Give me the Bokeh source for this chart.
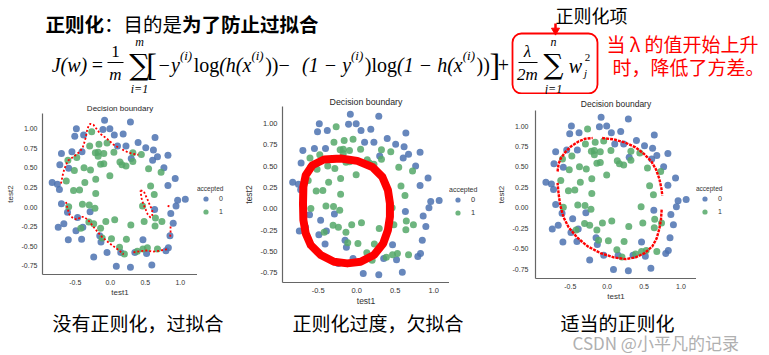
from bokeh.plotting import figure
from bokeh.layouts import column, row
from bokeh.models import Range1d, FixedTicker, NumeralTickFormatter, Legend, LegendItem, ColumnDataSource
from bokeh.core.properties import value
from bokeh.embed import file_html
from bokeh.resources import INLINE

# ---------------- data (microchip tests) ----------------
test1 = [0.051267, -0.092742, -0.21371, -0.375, -0.51325, -0.52477, -0.39804, -0.30588, 0.016705, 0.13191,
         0.38537, 0.52938, 0.63882, 0.73675, 0.54666, 0.322, 0.16647, -0.046659, -0.17339, -0.47869,
         -0.60541, -0.62846, -0.59389, -0.42108, -0.11578, 0.20104, 0.46601, 0.67339, -0.13882, -0.29435,
         -0.26555, -0.16187, -0.17339, -0.28283, -0.36348, -0.30012, -0.23675, -0.06394, 0.062788, 0.22984,
         0.2932, 0.48329, 0.64459, 0.46025, 0.6273, 0.57546, 0.72523, 0.22408, 0.44297, 0.322,
         0.13767, -0.0063364, -0.092742, -0.20795, -0.20795, -0.43836, -0.21947, -0.13882, 0.18376, 0.22408,
         0.29896, 0.50634, 0.61578, 0.60426, 0.76555, 0.92684, 0.82316, 0.96141, 0.93836, 0.86348,
         0.89804, 0.85196, 0.82892, 0.79435, 0.59274, 0.51786, 0.46601, 0.35081, 0.28744, 0.085829,
         0.14919, -0.13306, -0.40956, -0.39228, -0.74366, -0.69758, -0.75518, -0.69758, -0.4038, -0.38076,
         -0.50749, -0.54781, 0.10311, 0.057028, -0.10484, -0.081797, 0.28744, 0.39689, 0.63882, 0.82316,
         0.67339, 1.0709, -0.046659, -0.23675, -0.15035, -0.49021, -0.46717, -0.28859, -0.61118, -0.66302,
         -0.59965, -0.72638, -0.83007, -0.72062, -0.59389, -0.48445, -0.0063364, 0.63265]
test2 = [0.69956, 0.68494, 0.69225, 0.50219, 0.46564, 0.2098, 0.034357, -0.19225, -0.40424, -0.51389,
         -0.56506, -0.5212, -0.24342, -0.18494, 0.48757, 0.5826, 0.53874, 0.81652, 0.69956, 0.63377,
         0.59722, 0.33406, 0.005117, -0.27266, -0.39693, -0.60161, -0.53582, -0.53582, 0.54605, 0.77997,
         0.96272, 0.8019, 0.64839, 0.47295, 0.31213, 0.027047, -0.21418, -0.18494, -0.16301, -0.41155,
         -0.2288, -0.18494, -0.14108, 0.012427, 0.15863, 0.26827, 0.44371, 0.52412, 0.67032, 0.69225,
         0.57529, 0.39985, 0.55336, 0.35599, 0.17325, 0.21711, -0.016813, -0.27266, 0.93348, 0.77997,
         0.61915, 0.75804, 0.7288, 0.59722, 0.50219, 0.3633, 0.27558, 0.085526, 0.012427, -0.082602,
         -0.20687, -0.36769, -0.5212, -0.55775, -0.7405, -0.5943, -0.41886, -0.57968, -0.76974, -0.75512,
         -0.57968, -0.4481, -0.41155, -0.25804, -0.25804, 0.041667, 0.2902, 0.68494, 0.70687, 0.91886,
         0.90424, 0.70687, 0.77997, 0.91886, 0.99196, 1.1089, 1.087, 0.82383, 0.88962, 0.66301,
         0.64108, 0.10015, -0.57968, -0.63816, -0.36769, -0.3019, -0.13377, -0.060673, -0.067982, -0.21418,
         -0.41886, 0.22442, 0.31213, 0.53874, 0.49488, 0.99927, 0.99927, -0.030612]
accepted = [1] * 58 + [0] * 60

# decision boundary of plot 1 (no regularisation, traced)
b1_xs = [
    [-0.704, -0.694, -0.680, -0.661, -0.632, -0.599, -0.551, -0.489, -0.431, -0.392, -0.369, -0.349,
     -0.335, -0.312, -0.287, -0.24, -0.19, -0.144, -0.047, 0.048, 0.12],
    [0.17, 0.25, 0.32, 0.40],
    [-0.632, -0.613, -0.584, -0.527, -0.47, -0.421, -0.374, -0.326, -0.287, -0.24, -0.182, -0.119,
     -0.047, 0.024, 0.12, 0.19],
    [0.33, 0.38, 0.46, 0.53, 0.60, 0.66, 0.72, 0.80, 0.83],
    [0.86, 0.86, 0.855],
    [0.83, 0.835],
    [0.431, 0.479, 0.503, 0.536, 0.565, 0.599, 0.599, 0.575, 0.536, 0.503, 0.469, 0.445, 0.431],
]
b1_ys = [
    [0.30, 0.341, 0.405, 0.469, 0.541, 0.596, 0.626, 0.669, 0.711, 0.766, 0.829, 0.893,
     0.966, 1.033, 1.063, 1.05, 0.99, 0.936, 0.872, 0.796, 0.758],
    [0.735, 0.70, 0.68, 0.668],
    [0.065, -0.011, -0.096, -0.147, -0.16, -0.126, -0.126, -0.16, -0.198, -0.253, -0.317, -0.381,
     -0.436, -0.487, -0.55, -0.605],
    [-0.58, -0.57, -0.56, -0.555, -0.57, -0.565, -0.555, -0.54, -0.53],
    [-0.25, -0.32, -0.38],
    [0.0, 0.04],
    [0.214, 0.201, 0.150, 0.087, 0.023, -0.041, -0.104, -0.134, -0.096, -0.028, 0.045, 0.116, 0.214],
]

# plot 2 (too much regularisation, hand-drawn loop)
b2_x = [-0.207, 0.009, 0.203, 0.333, 0.406, 0.432, 0.432, 0.406, 0.345, 0.225, 0.052, -0.121,
        -0.294, -0.466, -0.596, -0.661, -0.691, -0.696, -0.691, -0.661, -0.574, -0.424, -0.207]
b2_y = [0.591, 0.563, 0.492, 0.375, 0.22, 0.064, -0.092, -0.248, -0.404, -0.54, -0.619, -0.638,
        -0.619, -0.54, -0.423, -0.287, -0.131, 0.064, 0.259, 0.395, 0.512, 0.579, 0.591]

# plot 3 (suitable regularisation)
b3_xs = [
    [-0.672, -0.658, -0.626, -0.567, -0.49, -0.386, -0.295, -0.196],
    [-0.068, 0.09, 0.249, 0.385, 0.498, 0.599, 0.662, 0.707, 0.735, 0.748],
    [0.739, 0.73, 0.707, 0.671, 0.612, 0.508, 0.385, 0.249, 0.09, -0.091, -0.264, -0.408, -0.522,
     -0.59, -0.635, -0.658, -0.672],
]
b3_ys = [
    [0.444, 0.538, 0.608, 0.681, 0.751, 0.812, 0.845, 0.853],
    [0.853, 0.837, 0.796, 0.739, 0.661, 0.567, 0.469, 0.355, 0.24, 0.15],
    [-0.022, -0.137, -0.259, -0.374, -0.472, -0.554, -0.607, -0.628, -0.607, -0.554, -0.472, -0.362,
     -0.239, -0.117, 0.027, 0.171, 0.305],
]

y_ticks = [-0.75, -0.5, -0.25, 0.0, 0.25, 0.5, 0.75, 1.0]
x_ticks = [-0.5, 0.0, 0.5, 1.0]
legend_labels = ["0", "1"]

BLUE = "#4c72b0"
GREEN = "#55a868"
RED = "#ff0000"
CJK = "Noto Sans CJK SC"
SANS = "Liberation Sans"
SERIF = "Liberation Serif"
ROW_H = 214


def class_source(label):
    return ColumnDataSource(dict(x=[a for a, c in zip(test1, accepted) if c == label],
                                 y=[b for b, c in zip(test2, accepted) if c == label]))


def txt(p, x, y, s, size, font=CJK, style="normal", color="#000000", align="left"):
    p.text(x=[x], y=[y], text=[s], text_font=value(font), text_font_size=value(f"{size}px"),
           text_font_style=style, text_color=color, text_align=align, text_baseline="middle")


def blank(width, height):
    p = figure(width=width, height=height, x_range=Range1d(0, width), y_range=Range1d(height, 0),
               toolbar_location=None, output_backend="svg", min_border=0,
               x_axis_type=None, y_axis_type=None, frame_align=False)
    p.grid.visible = False
    p.outline_line_color = None
    return p


# rough Times-like advance widths (em) used to lay out the formula pieces
W = {"(": .333, ")": .333, "h": .5, "x": .444, "y": .444, "i": .278, "l": .278, "o": .5, "g": .5,
     "1": .5, "−": .675, " ": .25}


def width_of(s, size):
    return sum(W.get(c, .5) for c in s) * size


# ---------------- top band: title + formula ----------------
top = blank(769, 94)
txt(top, 45, 23, "正则化", 19.5, style="bold")
txt(top, 103.5, 23, "：目的是", 19.5)
txt(top, 181.5, 23, "为了防止过拟合", 19.5, style="bold")

txt(top, 555, 14, "正则化项", 18)
top.segment(x0=[555], y0=[23], x1=[555], y1=[28], line_color=RED, line_width=2.5)
top.scatter(x=[555], y=[30], marker="inverted_triangle", size=8, color=RED)
top.quad(left=[512], right=[597], top=[33], bottom=[93], fill_color=None, line_color=RED,
         line_width=1.8, border_radius=9)

M = 64
F = 20
SUP = 13
txt(top, 69, M, "J(w)", F, font=SERIF, style="italic", align="center")
txt(top, 97, M, "=", F, font=SERIF, align="center")
txt(top, 115, 51, "1", 17, font=SERIF, align="center")
top.segment(x0=[107, 518], y0=[62, 62], x1=[123, 537], y1=[62, 62], line_color="#000000", line_width=1.1)
txt(top, 115, 74, "m", 17, font=SERIF, style="italic", align="center")
txt(top, 139, 64, "∑", 29, font="DejaVu Serif", align="center")
txt(top, 139, 41, "m", 12, font=SERIF, style="italic", align="center")
txt(top, 139, 88, "i=1", 12, font=SERIF, style="italic", align="center")
txt(top, 151, M, "[", 32, font=SERIF, align="center")
pieces = [("−y", "italic", False), ("(i)", "italic", True), ("log", "normal", False),
          ("(h(x", "italic", False), ("(i)", "italic", True), ("))", "normal", False),
          (" − ", "normal", False), ("(1 − y", "italic", False), ("(i)", "italic", True),
          (")log", "normal", False), ("(1 − h(x", "italic", False), ("(i)", "italic", True),
          ("))", "normal", False)]
cx = 157
for s, st, sup in pieces:
    size = SUP if sup else F
    txt(top, cx, 55 if sup else M, s, size, font=SERIF, style=st)
    cx += width_of(s, size) + (1.5 if sup else 0)
txt(top, cx + 5, M, "]", 32, font=SERIF, align="center")
txt(top, 503, M, "+", F, font=SERIF, align="center")
txt(top, 527, 51, "λ", 17, font=SERIF, style="italic", align="center")
txt(top, 527, 74, "2m", 17, font=SERIF, style="italic", align="center")
txt(top, 553, 64, "∑", 28, font="DejaVu Serif", align="center")
txt(top, 553, 41, "n", 12, font=SERIF, style="italic", align="center")
txt(top, 553, 88, "j=1", 12, font=SERIF, style="italic", align="center")
txt(top, 575, 65, "w", F, font=SERIF, style="italic", align="center")
txt(top, 587, 57, "2", 11, font=SERIF, align="center")
txt(top, 585, 72, "j", 11, font=SERIF, style="italic", align="center")

txt(top, 606, 43, "当 λ 的值开始上升", 19, color=RED)
txt(top, 612, 66, "时，降低了方差。", 19, color=RED)


# ---------------- middle row: three scatter panels + legends ----------------
def panel(frame_w, xr, yr, mbl, mbt, mbb, fs_tick, fs_lab, fs_title, title_standoff,
          tick_standoff_y, lab_standoff_y, boundary):
    p = figure(width=mbl + frame_w, height=ROW_H, x_range=Range1d(*xr), y_range=Range1d(*yr),
               toolbar_location=None, output_backend="svg", title="Decision boundary",
               min_border_left=mbl, min_border_right=0, min_border_top=mbt, min_border_bottom=mbb,
               frame_align=False)
    p.outline_line_color = None
    p.grid.visible = False
    p.title.align = "center"
    p.title.text_font = SANS
    p.title.text_font_style = "normal"
    p.title.text_font_size = f"{fs_title}px"
    p.title.text_color = "#262626"
    p.title.standoff = title_standoff
    p.xaxis.ticker = FixedTicker(ticks=x_ticks)
    p.yaxis.ticker = FixedTicker(ticks=y_ticks)
    p.xaxis.formatter = NumeralTickFormatter(format="0.0")
    p.yaxis.formatter = NumeralTickFormatter(format="0.00")
    p.xaxis.axis_label = "test1"
    p.yaxis.axis_label = "test2"
    for ax in (p.xaxis, p.yaxis):
        ax.axis_line_color = "#666666"
        ax.axis_line_width = 1.2
        ax.major_tick_line_color = None
        ax.minor_tick_line_color = None
        ax.major_tick_out = 0
        ax.major_tick_in = 0
        ax.minor_tick_out = 0
        ax.minor_tick_in = 0
        ax.major_label_text_font = SANS
        ax.major_label_text_font_size = f"{fs_tick}px"
        ax.major_label_text_color = "#333333"
        ax.axis_label_text_font = SANS
        ax.axis_label_text_font_style = "normal"
        ax.axis_label_text_font_size = f"{fs_lab}px"
        ax.axis_label_text_color = "#333333"
    p.xaxis.major_label_standoff = 5
    p.xaxis.axis_label_standoff = 0
    p.yaxis.major_label_standoff = tick_standoff_y
    p.yaxis.axis_label_standoff = lab_standoff_y

    p.scatter("x", "y", source=class_source(0), size=7, fill_color=BLUE, line_color=None, fill_alpha=0.85)
    p.scatter("x", "y", source=class_source(1), size=7, fill_color=GREEN, line_color=None, fill_alpha=0.85)
    boundary(p)
    return p


def legend_fig(width, bottom, fs):
    # the legend sits in its own narrow strip to the right of each panel; its
    # renderers use the class data but the view range keeps them out of sight
    p = figure(width=width, height=ROW_H, toolbar_location=None, output_backend="svg", min_border=0,
               x_range=Range1d(10, 11), y_range=Range1d(10, 11),
               x_axis_type=None, y_axis_type=None, frame_align=False)
    p.outline_line_color = None
    p.grid.visible = False
    rs = [p.scatter("x", "y", source=class_source(lab), size=7, fill_color=col, line_color=None,
                    fill_alpha=0.85)
          for lab, col in ((0, BLUE), (1, GREEN))]
    leg = Legend(items=[LegendItem(label=lab, renderers=[r]) for lab, r in zip(legend_labels, rs)],
                 title="accepted", location=(0, bottom))
    leg.margin = 0
    leg.padding = 0
    leg.spacing = 0
    leg.border_line_color = None
    leg.background_fill_alpha = 0
    leg.glyph_width = 17
    leg.glyph_height = 13
    leg.label_height = 13
    leg.label_width = 5
    leg.label_standoff = 5
    leg.title_standoff = 0
    leg.title_text_font = SANS
    leg.title_text_font_style = "normal"
    leg.title_text_font_size = f"{fs - 0.5}px"
    leg.title_text_color = "#333333"
    leg.label_text_font = SANS
    leg.label_text_font_size = f"{fs}px"
    leg.label_text_color = "#333333"
    p.add_layout(leg)
    return p


def bnd1(p):
    p.multi_line(xs=b1_xs, ys=b1_ys, line_color=RED, line_width=1.8, line_dash="2 2")


def bnd2(p):
    p.line(b2_x, b2_y, line_color=RED, line_width=8, line_join="round", line_cap="round")


def bnd3(p):
    p.multi_line(xs=b3_xs, ys=b3_ys, line_color=RED, line_width=2.4, line_dash="3 1")


f1 = panel(155, (-0.968, 1.245), (-0.862, 1.195), 42, 19, 34, 7, 8, 8, 1, 5, 4, bnd1)
f2 = panel(167, (-0.962, 1.205), (-0.862, 1.2), 42, 12, 26, 7.5, 8.5, 8.8, 0, 5, 3, bnd2)
f3 = panel(161, (-0.971, 1.211), (-0.865, 1.19), 45, 16, 30, 7, 8, 8.5, 3, 7, 4, bnd3)
l1 = legend_fig(240 - 197, 90, 7)
l2 = legend_fig(490 - 449, 89, 7.5)
l3 = legend_fig(769 - 696, 90, 7)

# ---------------- bottom band: captions ----------------
bot = blank(769, 47)
txt(bot, 52, 14, "没有正则化，过拟合", 19)
txt(bot, 292, 14, "正则化过度，欠拟合", 19)
txt(bot, 560, 14, "适当的正则化", 19)
txt(bot, 572, 34, "CSDN @小平凡的记录", 17, color="#b0b0b0")

layout = column(top, row(f1, l1, f2, l2, f3, l3), bot)
open("out.html", "w").write(file_html(layout, INLINE))
